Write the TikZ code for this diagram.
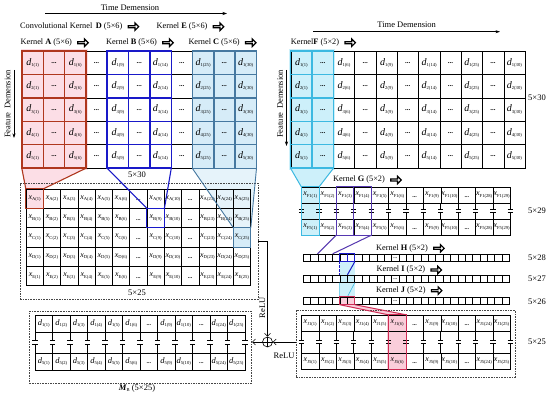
\documentclass[tikz,border=0pt]{standalone}
\usepackage{fontspec}
\setmainfont{Liberation Serif}
\usetikzlibrary{arrows.meta,shapes.arrows}
\pgfdeclarelayer{background}
\pgfsetlayers{background,main}

\definecolor{kred}{RGB}{175,55,30}
\definecolor{kpink}{RGB}{252,222,230}
\definecolor{kblue}{RGB}{25,25,200}
\definecolor{kcfill}{RGB}{214,236,248}
\definecolor{kcline}{RGB}{70,120,160}
\definecolor{kcyan}{RGB}{60,185,225}
\definecolor{kcyfill}{RGB}{205,240,250}
\definecolor{kpurp}{RGB}{85,55,175}
\definecolor{kjred}{RGB}{205,45,85}
\definecolor{kjfill}{RGB}{250,205,218}
\definecolor{dgray}{RGB}{70,70,70}

\newcommand\sub[1]{\raisebox{-1.4pt}{\fontsize{4.6}{4.6}\selectfont #1}}
\newcommand\dl[2]{{\fontsize{10}{10}\selectfont\itshape d}\sub{#1(#2)}}
\newcommand\dlab[2]{{\fontsize{8.5}{8.5}\selectfont\itshape d}\sub{#1(#2)}}
\newcommand\xlab[2]{{\fontsize{8}{8}\selectfont\itshape x}\sub{#1(#2)}}
\newcommand\gdots{{\fontsize{7}{7}\selectfont\bfseries ...}}
\newcommand\mdots{\raisebox{-4.5pt}{\fontsize{6}{6}\selectfont\bfseries ...}}
\newcommand\klab[2]{Kernel \textbf{#1} (#2)}

\tikzset{
  gcell/.style={draw, inner sep=0pt, minimum width=21.3pt, minimum height=23.35pt},
  mcell/.style={draw, inner sep=0pt},
  bcell/.style={draw, inner sep=0pt, minimum width=7.37pt, minimum height=7.5pt},
  dbox/.style={draw=dgray, dash pattern=on 1.6pt off 1pt, line width=0.7pt, inner sep=0pt},
  lab/.style={font=\fontsize{8.3}{8.3}\selectfont, inner sep=0pt},
  dimlab/.style={font=\fontsize{8.5}{8.5}\selectfont, inner sep=0pt},
  barb/.style={-{Straight Barb[length=3pt,width=6pt]}, line width=0.6pt},
  tarr/.style={-{Stealth[length=4.5pt,width=3pt]}, line width=0.6pt},
  warr/.style={single arrow, draw, fill=white, line width=1.2pt, inner sep=0pt,
    minimum height=10.5pt, minimum width=7.5pt, single arrow head extend=1.6pt, anchor=west},
}

\newcommand\mrow[7]{%
  \foreach \c [count=\i] in {#6} {
    \node[mcell, minimum width=#3pt, minimum height=#5pt] (#1-\i) at ({#2+(\i-0.5)*#3},{#4+0.5*#5}) {\ifnum\c=0 \mdots\else #7{\c}\fi};
  }}
\newcommand\seps[5]{%
  \foreach \k in {0,...,#3} {
    \pgfmathsetmacro\xx{#1+\k*#2}\pgfmathsetmacro\ym{(#4+#5)/2}
    \draw[line width=.5pt] (\xx,#4) -- (\xx,\ym-1.6) (\xx,\ym+1.6) -- (\xx,#5);
    \draw[line width=.8pt] (\xx-2.6,\ym-1.6) -- (\xx+2.6,\ym-1.6) (\xx-2.6,\ym+1.6) -- (\xx+2.6,\ym+1.6);
  }}

\begin{document}
\begin{tikzpicture}[x=1pt,y=-1pt,line width=0.5pt]
\useasboundingbox (0,0) rectangle (550,393);
\begin{pgfonlayer}{background}
\fill[white] (0,0) rectangle (550,393);
\end{pgfonlayer}

% ---------- top labels
\node[dimlab] (tdL) at (130,7.5) {Time Demension};
\coordinate (tdLa) at (45,13.5); \coordinate (tdLb) at (227,13.5);
\draw[tarr] (tdLa) -- (tdLb);
\node[dimlab] (tdR) at (406.7,25) {Time Demension};
\coordinate (tdRa) at (313,31.7); \coordinate (tdRb) at (500,31.7);
\draw[tarr] (tdRa) -- (tdRb);
\node[dimlab, rotate=90] (fdL) at (7.5,104) {Feature\, Demension};
\coordinate (fdLa) at (14,70); \coordinate (fdLb) at (14,138);
\draw[tarr] (fdLa) -- (fdLb);
\node[dimlab, rotate=90] (fdR) at (280,104) {Feature\, Demension};
\coordinate (fdRa) at (286.5,70); \coordinate (fdRb) at (286.5,146);
\draw[tarr] (fdRa) -- (fdRb);

\node[lab, anchor=west] (kD) at (20,26.7) {Convolutional Kernel\, \textbf{D} (5×6)};
\node[lab, anchor=west] (kE) at (156.5,26.7) {\klab{E}{5×6}};
\node[lab, anchor=west] (kA) at (20.5,42.7) {\klab{A}{5×6}};
\node[lab, anchor=west] (kB) at (106,42.7) {\klab{B}{5×6}};
\node[lab, anchor=west] (kC) at (188.3,42.7) {\klab{C}{5×6}};
\node[lab, anchor=west] (kF) at (290.7,42.7) {Kernel\textbf{F} (5×2)};
\node[lab, anchor=west] (kG) at (333,180) {\klab{G}{5×2}};
\node[lab, anchor=west] (kH) at (376,248.3) {\klab{H}{5×2}};
\node[lab, anchor=west] (kI) at (376.5,270) {\klab{I}{5×2}};
\node[lab, anchor=west] (kJ) at (376,290.7) {\klab{J}{5×2}};
\foreach \k in {D,E,A,B,C,F,G,H,I,J} {
  \node[warr] (w\k) at ([xshift=5pt]k\k.east) {};
}

% ---------- 5x30 grids
\foreach \c [count=\i] in {1,0,6,0,9,0,14,0,25,0,30} {
  \foreach \r in {1,...,5} {
    \node[gcell] (LG-\r-\i) at ({22+(\i-0.5)*21.3},{51.2+(\r-0.5)*23.35}) {\ifnum\c=0 \gdots\else\dl{\r}{\c}\fi};
    \node[gcell] (RG-\r-\i) at ({290.7+(\i-0.5)*21.3},{51.2+(\r-0.5)*23.35}) {\ifnum\c=0 \gdots\else\dl{\r}{\c}\fi};
  }}

% ---------- left 5x25 matrix
\foreach \L [count=\r] in {A,B,C,D,E} {
  \mrow{LM-\r}{26}{17.28}{189+(\r-1)*19.34}{19.34}{1,2,3,4,5,6,0,9,10,0,23,24,25}{\xlab{\L}}
}
% ---------- right 5x29 matrix
\mrow{RM-1}{301.5}{17.4}{187}{16}{1,2,3,4,5,6,0,9,10,0,28,29}{\xlab{F1}}
\mrow{RM-2}{301.5}{17.4}{219}{16}{1,2,3,4,5,6,0,9,10,0,28,29}{\xlab{F5}}
\seps{301.5}{17.4}{12}{203}{219}
% ---------- bars
\foreach \n/\yy in {28/254,27/275,26/297} {
  \foreach \i in {1,...,28} {
    \node[bcell] (B\n-\i) at ({303+(\i-0.5)*7.37},{\yy+3.75}) {\ifnum\i=13 \raisebox{-1.5pt}{\fontsize{5}{5}\selectfont\bfseries...}\fi};
  }}
% ---------- right 5x25 matrix
\mrow{RB-1}{301.5}{17.4}{315}{16}{1,2,3,4,5,6,0,9,10,0,24,25}{\xlab{J1}}
\mrow{RB-2}{301.5}{17.4}{353}{16}{1,2,3,4,5,6,0,9,10,0,24,25}{\xlab{J5}}
\seps{301.5}{17.4}{12}{331}{353}
% ---------- MB matrix
\mrow{MB-1}{35}{17.5}{315}{17}{1,2,3,4,5,6,0,9,10,0,24,25}{\dlab{1}}
\mrow{MB-2}{35}{17.5}{353}{17}{1,2,3,4,5,6,0,9,10,0,24,25}{\dlab{5}}
\seps{35}{17.5}{12}{332}{353}

% ---------- dashed boxes
\node[dbox, minimum width=238pt, minimum height=116pt] (LBox) at (139,241.3) {};
\node[dbox, minimum width=219pt, minimum height=66.5pt] (RBox) at (405.5,343.75) {};
\node[dbox, minimum width=222.4pt, minimum height=71.5pt] (MBox) at (140.5,347.25) {};

% ---------- highlight fills
\begin{pgfonlayer}{background}
\fill[kpink] (20.5,48.7) rectangle (88.2,170);
\fill[kpink] (LG-5-1.south west) -- (LG-5-3.south east) -- (LM-1-1.north east) -- (LM-1-1.north west) -- cycle;
\fill[kpink] (LM-1-1.north west) rectangle (LM-1-1.south east);
\fill[kcfill] (LG-1-9.north west) rectangle (LG-5-11.south east);
\fill[kcfill, opacity=.6] (LG-5-9.south west) -- (LG-5-11.south east) -- (LM-3-13.north east) -- (LM-3-13.north west) -- cycle;
\fill[kcfill] (LM-3-13.north west) rectangle (LM-3-13.south east);
\fill[kcyfill] (289.3,48.7) rectangle (335,170.5);
\fill[kcyfill] (RG-5-1.south west) -- (RG-5-2.south east) -- (RM-1-1.north east) -- (RM-1-1.north west) -- cycle;
\fill[kcyfill] (RM-1-1.north west) rectangle (RM-2-1.south east);
\fill[kcyfill] (B28-6.south west) rectangle (B26-7.north east);
\fill[kjfill] (B26-6.north west) rectangle (B26-7.south east);
\fill[kjfill] (B26-6.south west) -- (B26-7.south east) -- (RB-1-6.north east) -- (RB-1-6.north west) -- cycle;
\fill[kjfill] ([xshift=-1pt]RB-1-6.north west) rectangle ([xshift=1pt]RB-2-6.south east);
\end{pgfonlayer}

% ---------- kernel A
\foreach \r in {1,...,5} \foreach \i in {1,2,3} \draw[kred, line width=.8pt] (LG-\r-\i.north west) rectangle (LG-\r-\i.south east);
\draw[kred, line width=1.4pt] (LG-1-1.north west) rectangle (LG-5-3.south east);
\draw[kred, line width=1.1pt] (LG-5-1.south west) -- (LM-1-1.north west) (LG-5-3.south east) -- (LM-1-1.north east);
\draw[kred, line width=1.1pt] (LM-1-1.north west) rectangle (LM-1-1.south east);
% ---------- kernel B
\foreach \r in {1,...,5} \foreach \i in {5,6,7} \draw[kblue, line width=.8pt] (LG-\r-\i.north west) rectangle (LG-\r-\i.south east);
\draw[kblue, line width=1.4pt] (LG-1-5.north west) rectangle (LG-5-7.south east);
\draw[kblue, line width=1.1pt] (LG-5-5.south west) -- (LM-2-8.north west) (LG-5-7.south east) -- (LM-2-8.north east);
\draw[kblue, line width=1.1pt] (LM-2-8.north west) rectangle (LM-2-8.south east);
% ---------- kernel C
\foreach \r in {1,...,5} \foreach \i in {9,10,11} \draw[kcline, line width=.7pt] (LG-\r-\i.north west) rectangle (LG-\r-\i.south east);
\draw[kcline, line width=1pt] (LG-1-9.north west) rectangle (LG-5-11.south east);
\draw[kcline, line width=.9pt] (LG-5-9.south west) -- (LM-3-13.north west) (LG-5-11.south east) -- (LM-3-13.north east);
\draw[kcline, line width=.9pt] (LM-3-13.north west) rectangle (LM-3-13.south east);
% ---------- kernel F
\foreach \r in {1,...,5} \foreach \i in {1,2} \draw[kcyan, line width=.8pt] (RG-\r-\i.north west) rectangle (RG-\r-\i.south east);
\draw[kcyan, line width=1.3pt] (RG-1-1.north west) rectangle (RG-5-2.south east);
\draw[kcyan, line width=1pt] (RG-5-1.south west) -- (RM-1-1.north west) (RG-5-2.south east) -- (RM-1-1.north east);
\draw[kcyan, line width=1pt] (RM-1-1.north west) rectangle (RM-2-1.south east);
% ---------- kernel G
\draw[kpurp, line width=1.1pt] (RM-1-3.north west) rectangle (RM-2-4.south east) (RM-1-3.north east) -- (RM-2-3.south east);
\draw[kpurp, line width=1pt] (RM-2-3.south west) -- (B28-3.north west) (RM-2-4.south east) -- (B28-4.north east);
% ---------- kernel H
\draw[kblue, line width=1.3pt] (B28-6.north west) rectangle (B28-7.south east) (B28-6.north east) -- (B28-6.south east);
\draw[kblue, line width=1pt, dash pattern=on 2.5pt off 1.2pt] (B28-6.south west) -- (B27-6.north west);
\draw[kblue, line width=1pt] (B28-7.south east) -- (B27-6.north east);
% ---------- kernel I
\draw[kcyan, line width=.6pt] (B27-6.south west) -- (B26-6.north west) (B27-7.south east) -- (B26-6.north east);
% ---------- kernel J
\draw[kjred, line width=1pt] (B26-6.north west) rectangle (B26-7.south east);
\draw[kjred, line width=1pt] (B26-6.south west) -- (RB-1-6.north west) (B26-7.south east) -- (RB-1-6.north east);
\draw[kjred, line width=.9pt] (RB-1-6.north west) rectangle (RB-2-6.south east);

% ---------- dimension labels
\node[dimlab] (d530L) at (137,175) {5×30};
\node[dimlab] (d525L) at (137,292.5) {5×25};
\node[dimlab] (d530R) at (537,98) {5×30};
\node[dimlab] (d529) at (537,211) {5×29};
\node[dimlab] (d528) at (537,258) {5×28};
\node[dimlab] (d527) at (537,279) {5×27};
\node[dimlab] (d526) at (537,301.5) {5×26};
\node[dimlab] (d525R) at (537,342) {5×25};
\node[dimlab] (mb) at (137,388.5) {\textbf{\textit{M}}\sub{B} (5×25)};

% ---------- merge
\node[draw, circle, minimum size=10pt, inner sep=0pt, line width=0.6pt] (op) at (267.5,342) {};
\draw[line width=0.6pt] (op.north) -- (op.south) (op.west) -- (op.east);
\draw[barb] (LBox.east) -| (op.north);
\draw[barb] (RBox.west |- op.east) -- (op.east);
\draw[barb] (op.west) -- (MBox.east |- op.west);
\node[dimlab, rotate=90] (relu1) at (262.5,308) {ReLU};
\node[dimlab] (relu2) at (284,356) {ReLU};
\end{tikzpicture}
\end{document}
